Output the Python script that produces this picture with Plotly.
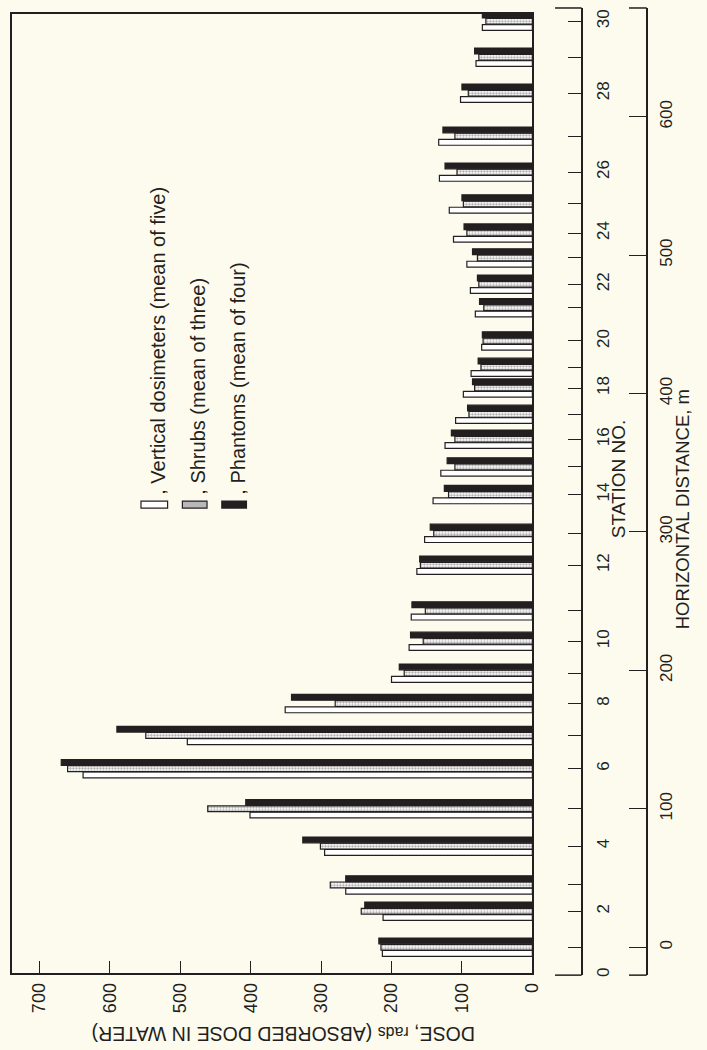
import plotly.graph_objects as go

# ---------------- data ----------------
stations = list(range(0, 31))
# horizontal distance (m) of each station
station_dist = [-20, 0, 26, 45, 73, 100, 129, 153, 176, 198, 221, 243, 276, 299,
                327, 347, 367, 385, 404, 419, 438, 462, 479, 498, 516, 537, 560,
                586, 617, 643, 669]
station_labels = [str(s) if s % 2 == 0 else "" for s in stations]

bar_stations = list(range(1, 31))
vertical_dosimeters = [213, 212, 265, 295, 401, 638, 490, 351, 200, 175, 172, 164,
                       153, 141, 130, 124, 109, 98, 87, 72, 81, 88, 93, 112, 118,
                       132, 133, 102, 80, 71]
shrubs = [215, 243, 287, 301, 461, 660, 549, 280, 182, 155, 152, 159, 140, 119,
          110, 110, 90, 82, 73, 70, 69, 76, 78, 93, 98, 107, 110, 91, 76, 66]
phantoms = [218, 238, 265, 326, 407, 669, 590, 342, 189, 173, 171, 160, 145, 125,
            121, 115, 92, 85, 77, 71, 75, 78, 85, 97, 100, 124, 127, 100, 82, 71]

dose_ticks = [0, 100, 200, 300, 400, 500, 600, 700]
distance_ticks = [0, 100, 200, 300, 400, 500, 600]

legend_labels = [", Vertical dosimeters (mean of five)",
                 ", Shrubs (mean of three)",
                 ", Phantoms (mean of four)"]

# ---------------- layout geometry ----------------
W, H = 707, 1050
def xp(px):
    return px / W
def yp(py):
    return 1 - py / H

PX_PER_M = 1.3867          # vertical pixels per metre of distance
Y0_PX = 949                # pixel row of distance 0
PX_PER_RAD = 0.7143        # horizontal pixels per rad
X0_PX = 540                # pixel column of dose 0

def d_at(py):
    return (Y0_PX - py) / PX_PER_M

bar_pos = [station_dist[s] for s in bar_stations]
BW = 4.2     # bar thickness (m)
GAP = 4.5    # centre spacing (m)

INK = "#231f20"
BG = "#fdfbee"
CLEAR = "rgba(0,0,0,0)"
FONT = "Liberation Sans, Arial, sans-serif"

fig = go.Figure()

fig.add_trace(go.Bar(
    y=bar_pos, x=vertical_dosimeters, orientation="h", name=legend_labels[0],
    width=BW, offset=-GAP - BW / 2,
    marker=dict(color="#ffffff", line=dict(color=INK, width=1.2)),
    showlegend=False))
fig.add_trace(go.Bar(
    y=bar_pos, x=shrubs, orientation="h", name=legend_labels[1],
    width=BW, offset=-BW / 2,
    marker=dict(color="#ffffff", line=dict(color=INK, width=1.2),
                pattern=dict(shape=".", fgcolor="#555555", bgcolor="#ffffff",
                             size=3, solidity=0.45)),
    showlegend=False))
fig.add_trace(go.Bar(
    y=bar_pos, x=phantoms, orientation="h", name=legend_labels[2],
    width=BW, offset=GAP - BW / 2,
    marker=dict(color=INK, line=dict(color=INK, width=1.2)),
    showlegend=False))

# dummy traces so the two extra axes get drawn
for ax in ["y2", "y3"]:
    fig.add_trace(go.Scatter(x=[None], y=[None], xaxis="x", yaxis=ax,
                             showlegend=False, hoverinfo="skip", mode="markers"))

dose_left = (X0_PX - 12) / PX_PER_RAD

fig.update_layout(
    width=W, height=H, autosize=False,
    margin=dict(l=0, r=0, t=0, b=0, pad=0),
    paper_bgcolor=BG, plot_bgcolor=CLEAR,
    font=dict(family=FONT, color=INK, size=18),
    barmode="overlay",
    xaxis=dict(domain=[xp(12), xp(540)], range=[dose_left, 0],
               tickvals=dose_ticks, tickangle=-90, ticks="inside", ticklen=12,
               tickwidth=1.2, tickcolor=INK, showline=True, mirror=True,
               linecolor=INK, linewidth=1.5, showgrid=False, zeroline=False,
               anchor="y", tickfont=dict(size=18), ticklabelstandoff=1),
    yaxis=dict(domain=[yp(975), yp(14)], range=[d_at(975), d_at(14)],
               showticklabels=False, ticks="", showline=True, mirror=True,
               linecolor=INK, linewidth=1.5, showgrid=False, zeroline=False),
    yaxis2=dict(domain=[yp(977), yp(8)], range=[d_at(977), d_at(8)],
                anchor="free", position=xp(590), side="right",
                tickvals=station_dist, ticktext=station_labels,
                ticks="inside", ticklen=13, tickwidth=1.2, tickcolor=INK,
                showline=True, linecolor=INK, linewidth=1.5, tickangle=-90,
                showgrid=False, zeroline=False, tickfont=dict(size=17),
                ticklabelstandoff=6),
    yaxis3=dict(domain=[yp(977), yp(8)], range=[d_at(977), d_at(8)],
                anchor="free", position=xp(656), side="right",
                tickvals=distance_ticks, ticks="inside", ticklen=17,
                tickwidth=1.2, tickcolor=INK, showline=True, linecolor=INK,
                linewidth=1.5, tickangle=-90, showgrid=False, zeroline=False,
                tickfont=dict(size=17), ticklabelstandoff=4),
)

shapes = []
# axis end brackets
for py in (8, 977):
    shapes.append(dict(type="line", xref="paper", yref="paper",
                       x0=xp(563), x1=xp(590), y0=yp(py), y1=yp(py),
                       line=dict(color=INK, width=1.5)))
    shapes.append(dict(type="line", xref="paper", yref="paper",
                       x0=xp(638), x1=xp(656), y0=yp(py), y1=yp(py),
                       line=dict(color=INK, width=1.5)))
# legend swatches
swatch_x = [(143, 170), (185, 210), (225, 250)]
swatch_fill = ["#ffffff", "#b8b8b8", INK]
for (a, b), fc in zip(swatch_x, swatch_fill):
    shapes.append(dict(type="rect", xref="paper", yref="paper",
                       x0=xp(a), x1=xp(b), y0=yp(509), y1=yp(502),
                       fillcolor=fc, line=dict(color=INK, width=1.2)))
fig.update_layout(shapes=shapes)

ann = []
legend_x = [160, 200, 241]
for lx, txt in zip(legend_x, legend_labels):
    ann.append(dict(text=txt, xref="paper", yref="paper", x=xp(lx), y=yp(498),
                    xanchor="center", yanchor="bottom", textangle=-90,
                    showarrow=False, font=dict(size=20, color=INK)))
ann.append(dict(text="STATION NO.", xref="paper", yref="paper", x=xp(627), y=yp(480),
                xanchor="center", yanchor="middle", textangle=-90,
                showarrow=False, font=dict(size=19, color=INK)))
ann.append(dict(text="HORIZONTAL DISTANCE, m", xref="paper", yref="paper",
                x=xp(692), y=yp(510), xanchor="center", yanchor="middle",
                textangle=-90, showarrow=False, font=dict(size=18.5, color=INK)))
ann.append(dict(text="DOSE, <span style='font-size:16px'>rads</span> (ABSORBED DOSE IN WATER)",
                xref="paper", yref="paper", x=xp(287), y=yp(1036),
                xanchor="center", yanchor="middle", textangle=180,
                showarrow=False, font=dict(size=19.5, color=INK)))
fig.update_layout(annotations=ann)

fig.write_html("out.html", config={"displayModeBar": False},
               post_script="document.documentElement.style.margin='0';"
                           "document.documentElement.style.padding='0';"
                           "document.documentElement.style.overflow='hidden';"
                           "document.body.style.margin='0';"
                           "document.body.style.padding='0';"
                           "document.body.style.overflow='hidden';"
                           "document.body.style.background='" + BG + "';")
